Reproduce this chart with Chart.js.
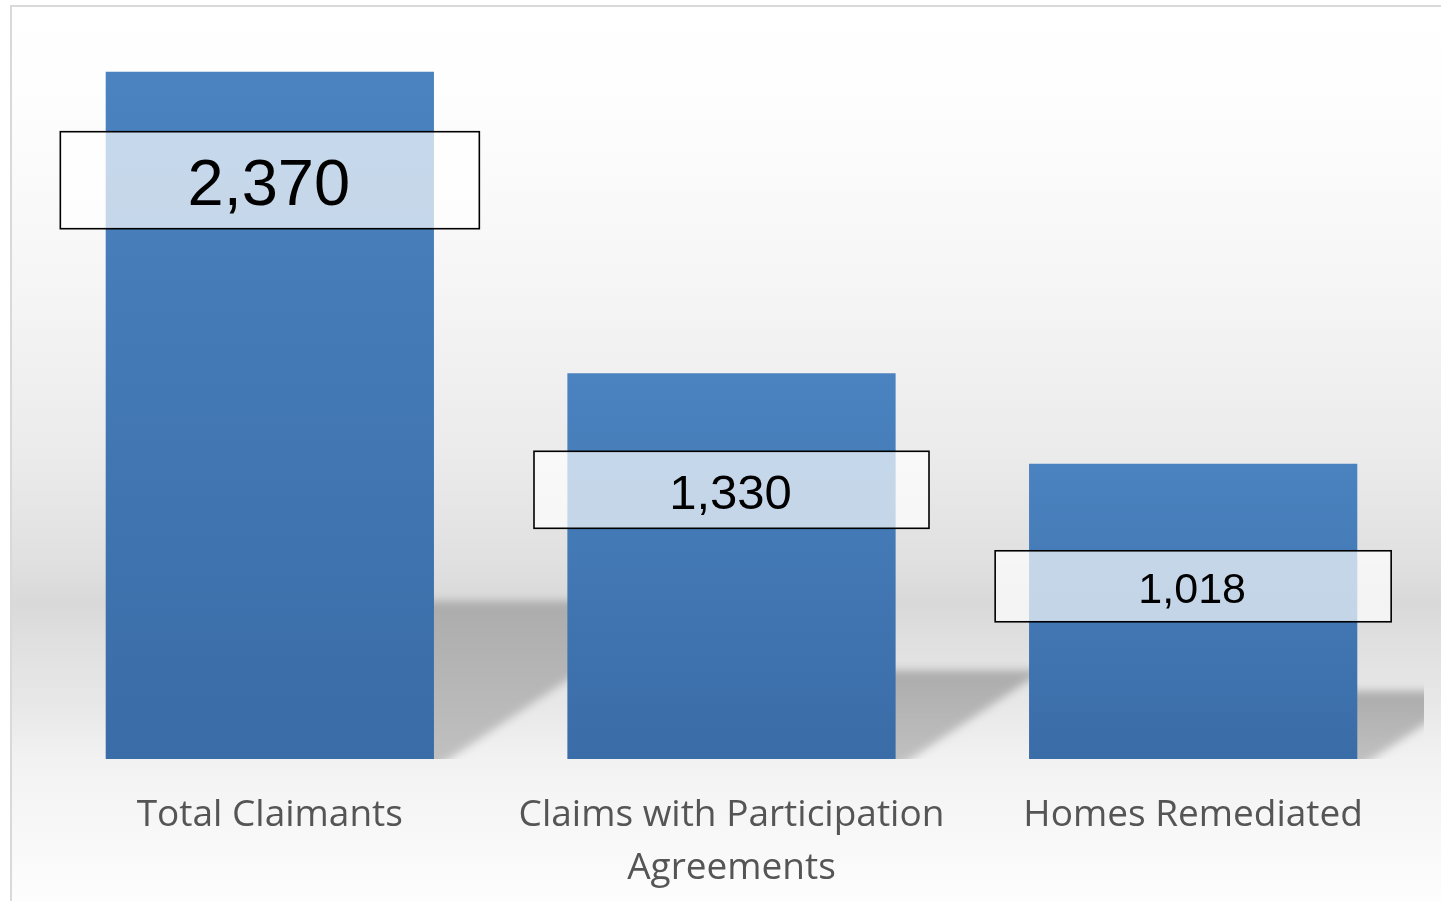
<!DOCTYPE html>
<html>
<head>
<meta charset="utf-8">
<script src="https://cdn.jsdelivr.net/npm/chart.js@4"></script>
<style>
    html, body { margin: 0; padding: 0; background: #ffffff; overflow: hidden; }
    #frame {
        position: absolute; left: 10px; top: 5px;
        width: 1431px; height: 896px;
        border-left: 2px solid #d9d9d9; border-top: 2px solid #d9d9d9;
    }
</style>
</head>
<body>
<div id="frame"><canvas id="claimsChart"></canvas></div>
<script>
const categories = ["Total Claimants", ["Claims with Participation", "Agreements"], "Homes Remediated"];
const counts = [2370, 1330, 1018];
const valueLabels = ["2,370", "1,330", "1,018"];
const axisMax = 2500;

// label box look for each bar (size / font / how far below the bar top)
const boxWidth = [419, 395, 396];
const boxHeight = [97, 77, 71];
const boxDrop = [108.5, 116.5, 122.5];
const labelFont = [65, 49, 43];

// page background: white top, grey "horizon", light floor
const backdrop = {
    id: "backdrop",
    beforeDraw(chart){
        const {ctx, width, height} = chart;
        const g = ctx.createLinearGradient(0, 0, 0, height);
        g.addColorStop(0, "#ffffff");
        g.addColorStop(0.12, "#fdfdfd");
        g.addColorStop(0.30, "#f6f6f6");
        g.addColorStop(0.50, "#ebebeb");
        g.addColorStop(0.62, "#e0e0e0");
        g.addColorStop(0.665, "#d9d9d9");
        g.addColorStop(0.71, "#e0e0e0");
        g.addColorStop(0.78, "#e8e8e8");
        g.addColorStop(0.84, "#f2f2f2");
        g.addColorStop(1, "#fdfdfd");
        ctx.save();
        ctx.fillStyle = g;
        ctx.fillRect(0, 0, width, height);
        ctx.restore();
    }
};

// soft slanted shadows behind each bar
const floorShadow = {
    id: "floorShadow",
    beforeDatasetsDraw(chart){
        const {ctx, chartArea} = chart;
        ctx.save();
        ctx.beginPath();
        ctx.rect(chartArea.left, chartArea.top, chartArea.right - chartArea.left, chartArea.bottom - chartArea.top);
        ctx.clip();
        ctx.filter = "blur(4px)";
        chart.getDatasetMeta(0).data.forEach(bar => {
            const h = bar.base - bar.y;
            const sh = h * 0.23;
            const dx = sh * 1.5;
            const left = bar.x - bar.width / 2;
            const right = bar.x + bar.width / 2;
            const g = ctx.createLinearGradient(0, bar.base - sh, 0, bar.base);
            g.addColorStop(0, "#acacac");
            g.addColorStop(1, "#c0c0c0");
            ctx.fillStyle = g;
            ctx.beginPath();
            ctx.moveTo(left, bar.base + 10);
            ctx.lineTo(right, bar.base + 10);
            ctx.lineTo(right + dx + 10 * 1.5, bar.base - sh);
            ctx.lineTo(left + dx, bar.base - sh);
            ctx.closePath();
            ctx.fill();
        });
        ctx.restore();
    }
};

// boxed value labels
const boxedLabels = {
    id: "boxedLabels",
    afterDatasetsDraw(chart){
        const {ctx} = chart;
        ctx.save();
        chart.getDatasetMeta(0).data.forEach((bar, i) => {
            const cy = bar.y + boxDrop[i];
            const w = boxWidth[i], h = boxHeight[i];
            ctx.fillStyle = "rgba(255,255,255,0.69)";
            ctx.fillRect(bar.x - w / 2, cy - h / 2, w, h);
            ctx.lineWidth = 1.6;
            ctx.strokeStyle = "#000000";
            ctx.strokeRect(bar.x - w / 2, cy - h / 2, w, h);
            ctx.fillStyle = "#000000";
            ctx.font = labelFont[i] + "px 'Liberation Sans', Arial, sans-serif";
            ctx.textAlign = "center";
            ctx.textBaseline = "alphabetic";
            ctx.fillText(valueLabels[i], bar.x - 1, cy + labelFont[i] * 0.358 + 1.5);
        });
        ctx.restore();
    }
};

function barFill(context){
    const chart = context.chart;
    if(!chart.chartArea) return "#4379b5";
    const yScale = chart.scales.y;
    const top = yScale.getPixelForValue(context.parsed.y);
    const bottom = yScale.getPixelForValue(0);
    const g = chart.ctx.createLinearGradient(0, top, 0, bottom);
    g.addColorStop(0, "#4a83c0");
    g.addColorStop(1, "#3a6ca7");
    return g;
}

new Chart(document.getElementById("claimsChart"), {
    type: "bar",
    data: {
        labels: categories,
        datasets: [{
            data: counts,
            backgroundColor: barFill,
            borderWidth: 0,
            categoryPercentage: 1,
            barPercentage: 0.711
        }]
    },
    options: {
        responsive: true,
        maintainAspectRatio: false,
        animation: false,
        layout: { padding: { top: 27, left: 27, right: 19, bottom: 11.5 } },
        plugins: {
            legend: { display: false },
            tooltip: { enabled: false }
        },
        scales: {
            x: {
                grid: { display: false, drawTicks: false },
                border: { display: false },
                afterFit: scale => { scale.height = 132.5; },
                ticks: {
                    padding: 29.5,
                    color: "#555555",
                    maxRotation: 0,
                    autoSkip: false,
                    font: { family: "'Open Sans', sans-serif", size: 37, lineHeight: 53 / 37 }
                }
            },
            y: {
                display: false,
                min: 0,
                max: axisMax
            }
        }
    },
    plugins: [backdrop, floorShadow, boxedLabels]
});
</script>
</body>
</html>
